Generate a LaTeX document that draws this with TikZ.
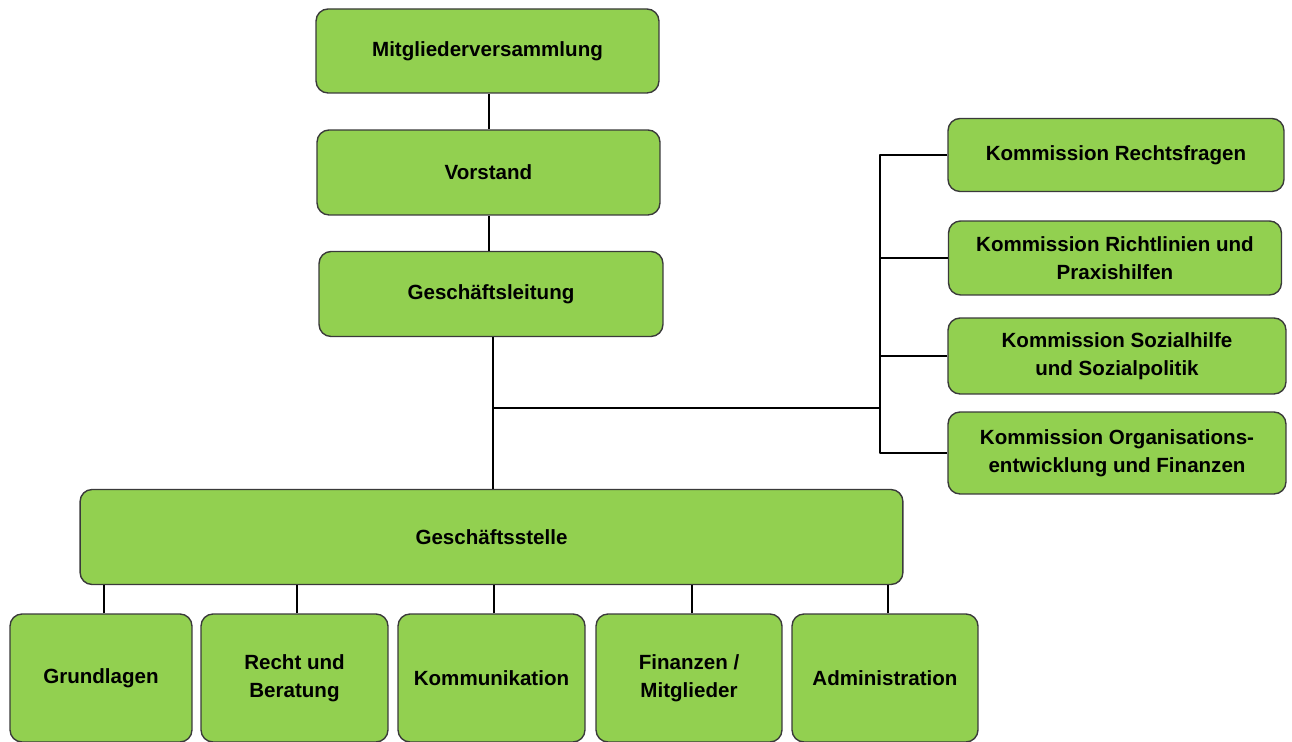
\documentclass[tikz,border=0pt]{standalone}
\usepackage{fontspec}
\setmainfont{Liberation Sans}
\definecolor{boxgreen}{HTML}{92D050}
\definecolor{boxline}{HTML}{3A3A3A}
\tikzset{
  unit/.style={draw=boxline, line width=0.8pt, fill=boxgreen, rounded corners=0.24cm,
    align=center, inner sep=0pt, font=\fontsize{11.7pt}{16pt}\selectfont\bfseries},
  link/.style={line width=1.15pt, black}
}
\begin{document}
\begin{tikzpicture}[x=0.02cm, y=-0.02cm, line join=round]
\useasboundingbox (0,0) rectangle (1292,742);
% Leitung
\node[unit, minimum width=6.86cm, minimum height=1.68cm] (mv) at (487.5,51) {Mitgliederversammlung};
\node[unit, minimum width=6.86cm, minimum height=1.70cm] (vs) at (488.5,172.5) {Vorstand};
\node[unit, minimum width=6.88cm, minimum height=1.70cm] (gl) at (491,294) {Geschäftsleitung};
\node[unit, minimum width=16.46cm, minimum height=1.90cm] (gs) at (491.5,537) {Geschäftsstelle};
% Kommissionen
\node[unit, minimum width=6.72cm, minimum height=1.46cm] (k1) at (1116,155) {Kommission Rechtsfragen};
\node[unit, minimum width=6.66cm, minimum height=1.48cm] (k2) at (1115,258) {Kommission Richtlinien und\\Praxishilfen};
\node[unit, minimum width=6.76cm, minimum height=1.52cm] (k3) at (1117,356) {Kommission Sozialhilfe\\und Sozialpolitik};
\node[unit, minimum width=6.76cm, minimum height=1.64cm] (k4) at (1117,453) {Kommission Organisations-\\entwicklung und Finanzen};
% Bereiche
\node[unit, minimum width=3.64cm, minimum height=2.56cm] (b1) at (101,678) {Grundlagen};
\node[unit, minimum width=3.74cm, minimum height=2.56cm] (b2) at (294.5,678) {Recht und\\Beratung};
\node[unit, minimum width=3.74cm, minimum height=2.56cm] (b3) at (491.5,678) {Kommunikation};
\node[unit, minimum width=3.72cm, minimum height=2.56cm] (b4) at (689,678) {Finanzen /\\Mitglieder};
\node[unit, minimum width=3.72cm, minimum height=2.56cm] (b5) at (885,678) {Administration};
% Verbindungen
\coordinate (axis) at (489,0);
\coordinate (bus) at (880,408);
\coordinate (knot) at (493,408);
\draw[link] (mv.south-|axis) -- (vs.north-|axis);
\draw[link] (vs.south-|axis) -- (gl.north-|axis);
\draw[link] (gl.south-|knot) -- (gs.north-|knot);
\draw[link] (knot) -- (bus);
\draw[link] (k1.west) -| (bus) |- (k4.west);
\draw[link] (k2.west) -- (k2.west-|bus);
\draw[link] (k3.west) -- (k3.west-|bus);
\foreach \b in {b1,b2,b3,b4,b5}
  \draw[link] ([xshift=1.5]\b.north) -- ([xshift=1.5]\b.north|-gs.south);
\end{tikzpicture}
\end{document}
